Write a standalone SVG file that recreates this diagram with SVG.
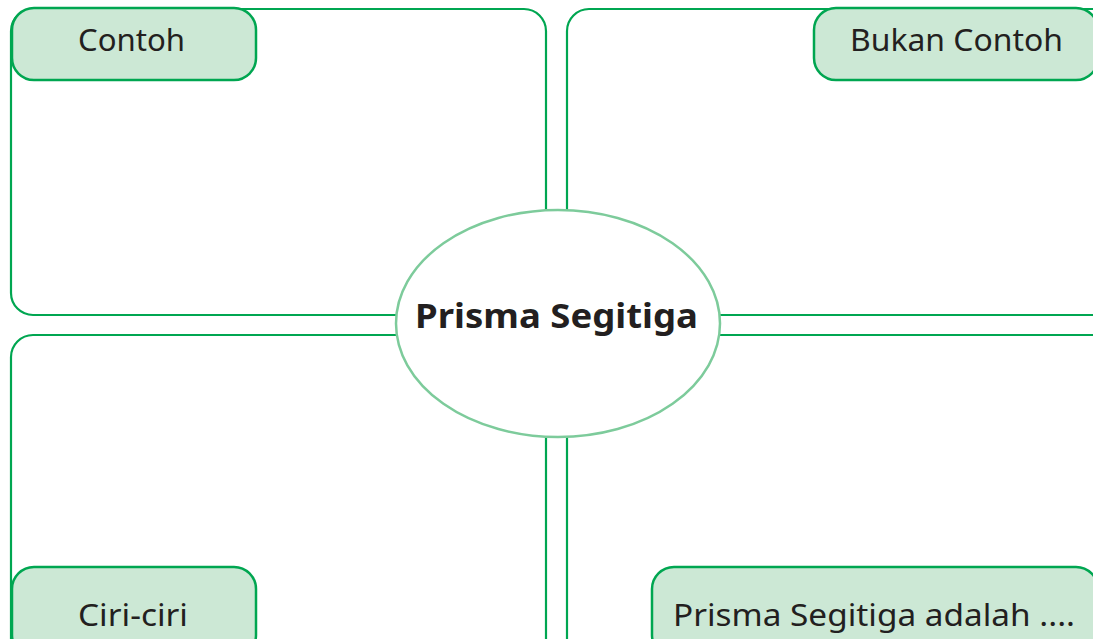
<svg xmlns="http://www.w3.org/2000/svg" width="1093" height="639" viewBox="0 0 1093 639">
<style>
.panel{fill:#ffffff;stroke:#00a651;stroke-width:2.2}
.tag{fill:#cce8d5;stroke:#00a651;stroke-width:2.5}
.lbl{font-family:"Noto Sans","Open Sans",sans-serif;font-size:31px;fill:#231f20}
.center{font-family:"Noto Sans","Open Sans",sans-serif;font-size:34px;font-weight:bold;fill:#231f20}
</style>
<rect width="1093" height="639" fill="#ffffff"/>
<g id="connectors"></g>
<g id="panel-contoh">
<rect class="panel" x="11" y="9" width="535" height="306" rx="22"/>
<rect class="tag" x="12" y="8" width="244" height="72" rx="22"/>
<text class="lbl" x="78" y="51" textLength="107" lengthAdjust="spacingAndGlyphs">Contoh</text>
</g>
<g id="panel-bukan-contoh">
<rect class="panel" x="567" y="9" width="548" height="306" rx="22"/>
<rect class="tag" x="814" y="8" width="284" height="72" rx="22"/>
<text class="lbl" x="850" y="51" textLength="213" lengthAdjust="spacingAndGlyphs">Bukan Contoh</text>
</g>
<g id="panel-ciri-ciri">
<rect class="panel" x="11" y="335" width="535" height="330" rx="22"/>
<rect class="tag" x="12" y="567" width="244" height="90" rx="22"/>
<text class="lbl" x="78" y="626" textLength="110" lengthAdjust="spacingAndGlyphs">Ciri-ciri</text>
</g>
<g id="panel-definisi">
<rect class="panel" x="567" y="335" width="548" height="330" rx="22"/>
<rect class="tag" x="652" y="567" width="446" height="90" rx="22"/>
<text class="lbl" x="673" y="626" textLength="402" lengthAdjust="spacingAndGlyphs">Prisma Segitiga adalah ....</text>
</g>
<g id="center-node">
<ellipse cx="558" cy="323.5" rx="162" ry="113.5" fill="#ffffff" stroke="#7dcb9b" stroke-width="2.5"/>
<text class="center" x="415" y="328" textLength="283" lengthAdjust="spacingAndGlyphs">Prisma Segitiga</text>
</g>
</svg>
